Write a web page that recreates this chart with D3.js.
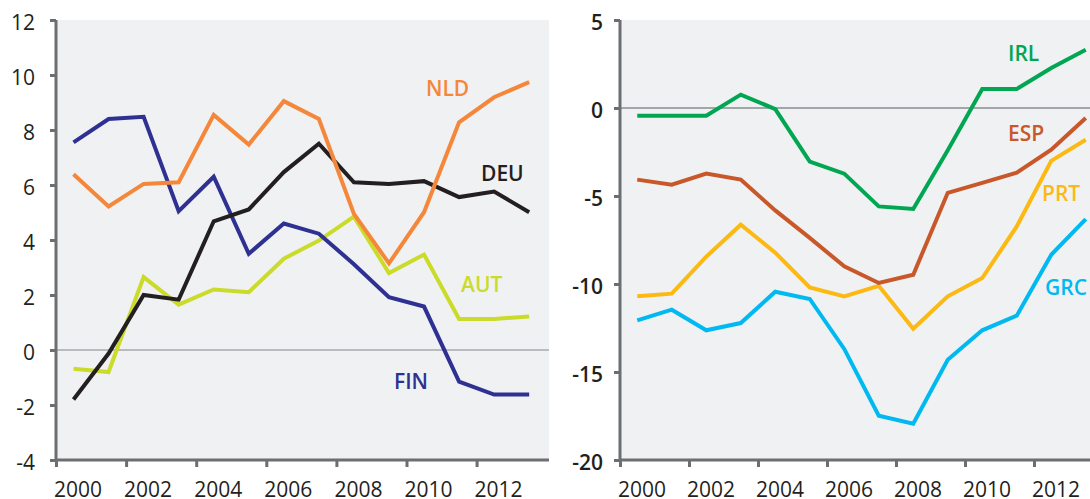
<!DOCTYPE html>
<html>
<head>
<meta charset="utf-8">
<script src="https://cdn.jsdelivr.net/npm/d3@7"></script>
<style>
  body { margin: 0; background: #fff; }
  svg text { font-family: "Open Sans", sans-serif; }
</style>
</head>
<body>
<svg id="chart"></svg>
<script>
let width = 1090;
let height = 499;

// data
const years = [2000, 2001, 2002, 2003, 2004, 2005, 2006, 2007, 2008, 2009, 2010, 2011, 2012, 2013];
const finValues = [7.55, 8.4, 8.48, 5.05, 6.3, 3.5, 4.6, 4.23, 3.12, 1.92, 1.58, -1.15, -1.62, -1.62];
const nldValues = [6.39, 5.22, 6.04, 6.1, 8.55, 7.47, 9.05, 8.4, 4.95, 3.15, 5.01, 8.28, 9.19, 9.74];
const deuValues = [-1.8, -0.13, 2.0, 1.83, 4.68, 5.11, 6.47, 7.5, 6.1, 6.04, 6.14, 5.56, 5.76, 5.01];
const autValues = [-0.68, -0.8, 2.65, 1.65, 2.2, 2.1, 3.32, 3.98, 4.85, 2.8, 3.47, 1.13, 1.13, 1.22];
const irlValues = [-0.44, -0.44, -0.44, 0.76, -0.06, -3.05, -3.73, -5.59, -5.74, -2.4, 1.08, 1.08, 2.27, 3.31];
const espValues = [-4.07, -4.36, -3.73, -4.07, -5.82, -7.38, -9.0, -9.94, -9.47, -4.82, -4.25, -3.68, -2.37, -0.57];
const prtValues = [-10.7, -10.55, -8.45, -6.63, -8.22, -10.2, -10.7, -10.1, -12.54, -10.7, -9.66, -6.73, -3.0, -1.8];
const grcValues = [-12.07, -11.46, -12.63, -12.22, -10.44, -10.85, -13.69, -17.48, -17.94, -14.3, -12.63, -11.8, -8.34, -6.31];

const leftTicks = [-4, -2, 0, 2, 4, 6, 8, 10, 12];
const rightTicks = [-20, -15, -10, -5, 0, 5];
const yearTicks = [2000, 2002, 2004, 2006, 2008, 2010, 2012];

const panels = [
  {
    x0: 56, x1: 549, top: 20, domain: [-4, 12], ticks: leftTicks, tickWeight: 400,
    labelX: 35, zeroColor: "#a7a9ac",
    series: [
      { name: "AUT", values: autValues, color: "#cbdb2a", lx: 461, ly: 292 },
      { name: "FIN", values: finValues, color: "#2e3192", lx: 394, ly: 389 },
      { name: "DEU", values: deuValues, color: "#231f20", lx: 481, ly: 181 },
      { name: "NLD", values: nldValues, color: "#f5873a", lx: 426, ly: 96 }
    ]
  },
  {
    x0: 620, x1: 1090, top: 20, domain: [-20, 5], ticks: rightTicks, tickWeight: 600,
    labelX: 603, zeroColor: "#8a8c8f",
    series: [
      { name: "GRC", values: grcValues, color: "#00b9f1", lx: 1045, ly: 295 },
      { name: "PRT", values: prtValues, color: "#fdb913", lx: 1042, ly: 201 },
      { name: "ESP", values: espValues, color: "#c8582a", lx: 1008, ly: 141 },
      { name: "IRL", values: irlValues, color: "#00a651", lx: 1008, ly: 61 }
    ]
  }
];

var svg = d3.select("#chart")
  .attr("width", width)
  .attr("height", height);

panels.forEach(function(p) {
  let bottom = 460;
  // axis starts half a year before the first data point
  let xScale = d3.scaleLinear()
    .domain([1999.5, 2013.5])
    .range([p.x0, p.x0 + 14 * (p.x0 === 56 ? 35.05 : 34.5)]);
  let yScale = d3.scaleLinear()
    .domain(p.domain)
    .range([bottom, p.top]);

  svg.append("rect")
    .attr("x", p.x0)
    .attr("y", p.top)
    .attr("width", p.x1 - p.x0)
    .attr("height", bottom - p.top)
    .attr("fill", "#f0f1f3");

  // zero line
  svg.append("line")
    .attr("x1", p.x0)
    .attr("x2", p.x1)
    .attr("y1", yScale(0))
    .attr("y2", yScale(0))
    .attr("stroke", p.zeroColor)
    .attr("stroke-width", 1.3);

  let line = d3.line()
    .x((d, i) => xScale(years[i]))
    .y(d => yScale(d));

  p.series.forEach(function(s) {
    svg.append("path")
      .datum(s.values)
      .attr("d", line)
      .attr("fill", "none")
      .attr("stroke", s.color)
      .attr("stroke-width", 4)
      .attr("stroke-linejoin", "miter");

    svg.append("text")
      .attr("x", s.lx)
      .attr("y", s.ly)
      .attr("fill", s.color)
      .attr("font-size", 21)
      .attr("font-weight", 600)
      .text(s.name);
  });

  // y axis
  let yAxis = d3.axisLeft(yScale)
    .tickValues(p.ticks)
    .tickSize(6)
    .tickFormat("");
  let gy = svg.append("g")
    .attr("transform", "translate(" + p.x0 + ",0)")
    .call(yAxis);
  gy.select(".domain").remove();
  gy.selectAll(".tick line").attr("stroke", "#6d6e71").attr("stroke-width", 3);

  svg.append("g")
    .selectAll("text")
    .data(p.ticks)
    .enter()
    .append("text")
    .attr("x", p.labelX)
    .attr("y", d => yScale(d) + 3)
    .attr("dy", "0.35em")
    .attr("text-anchor", "end")
    .attr("font-size", 21)
    .attr("font-weight", p.tickWeight)
    .attr("fill", "#231f20")
    .text(d => d);

  // x axis: ticks sit between years, labels start at the tick
  let xAxis = d3.axisBottom(xScale)
    .tickValues(yearTicks.map(y => y - 0.5))
    .tickSize(7)
    .tickFormat("");
  let gx = svg.append("g")
    .attr("transform", "translate(0," + bottom + ")")
    .call(xAxis);
  gx.select(".domain").remove();
  gx.selectAll(".tick line").attr("stroke", "#6d6e71").attr("stroke-width", 3);

  svg.append("g")
    .selectAll("text")
    .data(yearTicks)
    .enter()
    .append("text")
    .attr("x", d => xScale(d - 0.5) - 2)
    .attr("y", 497)
    .attr("font-size", 21)
    .attr("fill", "#231f20")
    .text(d => d);

  // axis lines
  svg.append("path")
    .attr("d", "M" + p.x0 + "," + p.top + "V" + bottom + "H" + p.x1)
    .attr("fill", "none")
    .attr("stroke", "#6d6e71")
    .attr("stroke-width", 3);
});
</script>
</body>
</html>
